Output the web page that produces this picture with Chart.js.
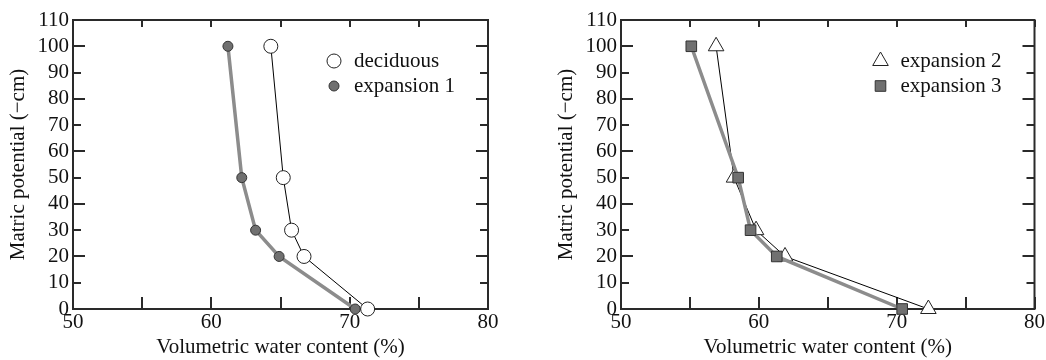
<!DOCTYPE html>
<html>
<head>
<meta charset="utf-8">
<script src="https://cdn.jsdelivr.net/npm/chart.js@4.4.0/dist/chart.umd.min.js"></script>
<style>
  html, body { margin: 0; padding: 0; background: #fff; }
  #wrap { position: relative; width: 1046px; height: 360px; overflow: hidden; }
  .panel { position: absolute; top: 0; height: 360px; }
  #left { left: 0; width: 520px; }
  #right { left: 548px; width: 498px; }
</style>
</head>
<body>
<div id="wrap">
  <div class="panel" id="left"><canvas id="leftChart"></canvas></div>
  <div class="panel" id="right"><canvas id="rightChart"></canvas></div>
</div>
<script>
// matric potential (-cm) for each sample
const potential = [0, 20, 30, 50, 100];

// volumetric water content (%)
const deciduous = [71.3, 66.7, 65.8, 65.2, 64.3];
const expansion1 = [70.4, 64.9, 63.2, 62.2, 61.2];
const expansion2 = [72.3, 61.9, 59.8, 58.2, 56.9];
const expansion3 = [70.4, 61.3, 59.4, 58.5, 55.1];

const xTicks = [50, 60, 70, 80];
const xMinorTicks = [55, 65, 75];
const yTicks = [0, 10, 20, 30, 40, 50, 60, 70, 80, 90, 100, 110];

const FONT = '"Liberation Serif", "Times New Roman", serif';
const FSIZE = 21;
const INK = "#111";

const toPoints = (xs) => xs.map((v, i) => ({ x: v, y: potential[i] }));

// ---------- frame with inward ticks ----------
const framePlugin = {
  id: "frame",
  beforeDatasetsDraw(chart) {
    const { ctx, chartArea: a } = chart;
    const x = chart.scales.x;
    const y = chart.scales.y;
    ctx.save();
    ctx.strokeStyle = "#2a2a2a";
    ctx.lineWidth = 2;
    ctx.strokeRect(a.left, a.top, a.right - a.left, a.bottom - a.top);
    ctx.beginPath();
    xTicks.concat(xMinorTicks).forEach((v) => {
      const px = Math.round(x.getPixelForValue(v));
      ctx.moveTo(px, a.bottom);
      ctx.lineTo(px, a.bottom - 12);
      ctx.moveTo(px, a.top);
      ctx.lineTo(px, a.top + 7);
    });
    yTicks.forEach((v) => {
      const py = Math.round(y.getPixelForValue(v));
      const len = v % 20 === 0 ? 12 : 8;
      ctx.moveTo(a.left, py);
      ctx.lineTo(a.left + len, py);
      ctx.moveTo(a.right, py);
      ctx.lineTo(a.right - len, py);
    });
    ctx.stroke();
    ctx.restore();
  },
};

// ---------- legend inside the plot, top right ----------
const boxLegend = {
  id: "boxLegend",
  afterDraw(chart) {
    const { ctx, chartArea: a } = chart;
    ctx.save();
    ctx.font = FSIZE + "px " + FONT;
    ctx.textBaseline = "middle";
    chart.data.datasets.forEach((ds, i) => {
      const mx = a.right - 154;
      const my = a.top + 41 + i * 25;
      ctx.fillStyle = ds.pointBackgroundColor;
      ctx.strokeStyle = ds.pointBorderColor;
      ctx.lineWidth = ds.pointBorderWidth;
      Chart.helpers.drawPoint(ctx, {
        pointStyle: ds.pointStyle,
        radius: ds.pointRadius,
        rotation: 0,
        borderWidth: ds.pointBorderWidth,
      }, mx, my);
      ctx.fillStyle = INK;
      ctx.fillText(ds.label, mx + 20, my);
    });
    ctx.restore();
  },
};

function makeOptions(rightPad) {
  return {
    responsive: true,
    maintainAspectRatio: false,
    animation: false,
    layout: { padding: { top: 20, right: rightPad, bottom: 0, left: 0 } },
    plugins: { legend: { display: false }, tooltip: { enabled: false } },
    scales: {
      x: {
        type: "linear",
        min: 50,
        max: 80,
        afterBuildTicks: (s) => { s.ticks = xTicks.map((v) => ({ value: v })); },
        afterFit: (s) => { s.height = 51; },
        grid: { display: false, drawTicks: false },
        border: { display: false },
        ticks: { color: INK, padding: 1, autoSkip: false, maxRotation: 0, font: { family: FONT, size: FSIZE } },
        title: {
          display: true,
          text: "Volumetric water content (%)",
          color: INK,
          padding: { top: 0, bottom: 0 },
          font: { family: FONT, size: FSIZE },
        },
      },
      y: {
        type: "linear",
        min: 0,
        max: 110,
        afterBuildTicks: (s) => { s.ticks = yTicks.map((v) => ({ value: v })); },
        afterFit: (s) => { s.width = 73; },
        grid: { display: false, drawTicks: false },
        border: { display: false },
        ticks: { color: INK, padding: 4, autoSkip: false, font: { family: FONT, size: FSIZE } },
        title: {
          display: true,
          text: "Matric potential (\u2212cm)",
          color: INK,
          padding: { top: 6, bottom: 0 },
          font: { family: FONT, size: FSIZE },
        },
      },
    },
  };
}

// ---------- Left panel ----------
new Chart(document.getElementById("leftChart"), {
  type: "line",
  data: {
    datasets: [
      {
        label: "deciduous",
        data: toPoints(deciduous),
        order: 0,
        borderColor: "#000",
        borderWidth: 1,
        pointStyle: "circle",
        pointRadius: 7,
        pointBackgroundColor: "#fff",
        pointBorderColor: "#222",
        pointBorderWidth: 1,
        tension: 0,
        clip: false,
      },
      {
        label: "expansion 1",
        data: toPoints(expansion1),
        order: 1,
        borderColor: "#8c8c8c",
        borderWidth: 3.5,
        pointStyle: "circle",
        pointRadius: 5,
        pointBackgroundColor: "#707070",
        pointBorderColor: "#333",
        pointBorderWidth: 1,
        tension: 0,
        clip: false,
      },
    ],
  },
  options: makeOptions(32),
  plugins: [framePlugin, boxLegend],
});

// ---------- Right panel ----------
new Chart(document.getElementById("rightChart"), {
  type: "line",
  data: {
    datasets: [
      {
        label: "expansion 2",
        data: toPoints(expansion2),
        order: 1,
        borderColor: "#000",
        borderWidth: 1,
        pointStyle: "triangle",
        pointRadius: 9,
        pointBackgroundColor: "#fff",
        pointBorderColor: "#222",
        pointBorderWidth: 1,
        tension: 0,
        clip: false,
      },
      {
        label: "expansion 3",
        data: toPoints(expansion3),
        order: 0,
        borderColor: "#8c8c8c",
        borderWidth: 3.5,
        pointStyle: "rect",
        pointRadius: 7.5,
        pointBackgroundColor: "#707070",
        pointBorderColor: "#333",
        pointBorderWidth: 1,
        tension: 0,
        clip: false,
      },
    ],
  },
  options: makeOptions(10),
  plugins: [framePlugin, boxLegend],
});
</script>
</body>
</html>
